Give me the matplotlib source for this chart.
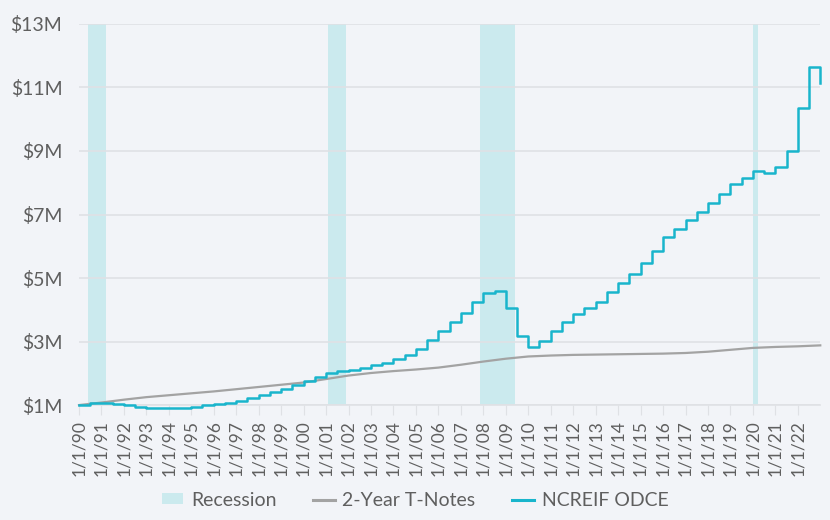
import matplotlib
matplotlib.use("Agg")
import matplotlib.pyplot as plt
from matplotlib.patches import Patch
from matplotlib.lines import Line2D
import pandas as pd

plt.rcParams['font.family'] = ['Lato', 'DejaVu Sans']

# NCREIF ODCE growth of $1M (semiannual, $M), 1990-01 .. 2022-07, plus final value
odce_values = [1.00, 1.05, 1.06, 1.03, 0.99, 0.95, 0.91, 0.90, 0.90, 0.92,
               0.95, 0.99, 1.03, 1.08, 1.14, 1.21, 1.31, 1.42, 1.52, 1.63,
               1.76, 1.89, 2.02, 2.08, 2.12, 2.17, 2.25, 2.34, 2.45, 2.57,
               2.76, 3.04, 3.34, 3.60, 3.89, 4.24, 4.52, 4.58, 4.05, 3.17,
               2.84, 3.02, 3.33, 3.61, 3.86, 4.06, 4.25, 4.55, 4.85, 5.13,
               5.46, 5.86, 6.28, 6.55, 6.83, 7.08, 7.35, 7.66, 7.96, 8.14,
               8.38, 8.32, 8.49, 9.00, 10.36, 11.65]
odce_final_date = "2022-12-20"
odce_final_value = 11.13

# 2-Year T-Notes growth of $1M (annual, $M), 1990..2023
tnote_values = [1.00, 1.08, 1.17, 1.25, 1.31, 1.37, 1.43, 1.50, 1.57, 1.64,
                1.71, 1.82, 1.93, 2.01, 2.07, 2.12, 2.18, 2.27, 2.37, 2.46,
                2.53, 2.56, 2.58, 2.59, 2.60, 2.61, 2.62, 2.64, 2.68, 2.74,
                2.80, 2.83, 2.85, 2.88]

rec_starts = ["1990-06-01", "2001-02-01", "2007-11-01", "2020-01-01"]
rec_ends = ["1991-03-15", "2001-11-15", "2009-06-01", "2020-04-01"]

y_ticks = [1, 3, 5, 7, 9, 11, 13]
y_labels = ["$1M", "$3M", "$5M", "$7M", "$9M", "$11M", "$13M"]
x_tick_years = list(range(1990, 2023))

odce_dates = list(pd.date_range("1990-01-01", periods=len(odce_values), freq="6MS"))
odce_dates.append(pd.Timestamp(odce_final_date))
odce_all = odce_values + [odce_final_value]
tnote_dates = pd.date_range("1990-01-01", periods=len(tnote_values), freq="YS")

bg = "#f2f4f8"
cyan = "#19b5cc"
grey = "#a3a3a3"
rec_col = "#cbeaee"
txt = "#5f5f5f"

fig = plt.figure(figsize=(8.3, 5.2), dpi=100, facecolor=bg)
ax = fig.add_axes([0.0952, 0.221, 0.893, 0.733], facecolor=bg)

for s, e in zip(rec_starts, rec_ends):
    ax.axvspan(pd.Timestamp(s), pd.Timestamp(e), color=rec_col, lw=0, zorder=1)

ax.plot(tnote_dates, tnote_values, color=grey, lw=1.6, zorder=3, clip_on=False)
ax.plot(odce_dates, odce_all, color=cyan, lw=1.8, drawstyle="steps-post", zorder=4,
        clip_on=False)

ax.set_xlim(pd.Timestamp("1990-01-01"), pd.Timestamp("2022-12-31"))
ax.set_ylim(1, 13)
ax.set_yticks(y_ticks)
ax.set_yticklabels(y_labels)
ax.set_xticks([pd.Timestamp(f"{y}-01-01") for y in x_tick_years])
ax.set_xticklabels([f"1/1/{y % 100:02d}" for y in x_tick_years], rotation=90)

ax.grid(axis="y", color="#dfe1e5", lw=1.2, zorder=0)
for sp in ["top", "right", "left"]:
    ax.spines[sp].set_visible(False)
ax.spines["bottom"].set_color("#dfe1e5")
ax.spines["bottom"].set_linewidth(1.2)
ax.tick_params(axis="y", length=0, labelsize=14, labelcolor=txt, pad=12)
ax.tick_params(axis="x", length=7, color="#dfe1e5", labelsize=12.5, labelcolor=txt, pad=4)

handles = [Patch(facecolor=rec_col, edgecolor="none"),
           Line2D([], [], color=grey, lw=2.2),
           Line2D([], [], color=cyan, lw=2.2)]
leg = fig.legend(handles, ["Recession", "2-Year T-Notes", "NCREIF ODCE"],
                 loc="center", bbox_to_anchor=(0.5, 0.038), ncol=3, frameon=False,
                 fontsize=14, handlelength=1.1, handleheight=0.5, handletextpad=0.4,
                 columnspacing=1.9)
for t in leg.get_texts():
    t.set_color(txt)

fig.savefig("out.png", dpi=100, facecolor=bg)
